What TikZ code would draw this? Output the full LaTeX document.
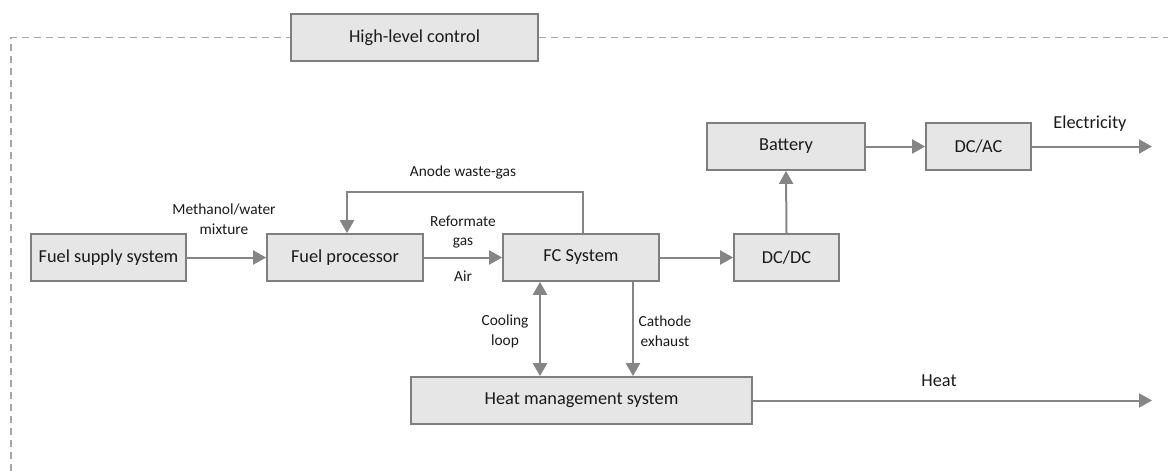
\documentclass[tikz,border=0pt]{standalone}
\usepackage{fontspec}
\setmainfont{Carlito}
\usetikzlibrary{arrows.meta}
\definecolor{boxfill}{HTML}{E6E6E6}
\definecolor{boxline}{HTML}{7F7F7F}
\definecolor{arrowc}{HTML}{858585}
\definecolor{dashc}{HTML}{A6A6A6}
\definecolor{txt}{HTML}{1A1A1A}
\tikzset{
  blk/.style={draw=boxline, fill=boxfill, line width=1.7pt, minimum height=47pt, inner sep=0pt,
    text=txt, font=\fontsize{18.3pt}{20pt}\selectfont},
  flow/.style={draw=arrowc, line width=2pt, -{Triangle[length=13pt,width=14pt]}},
  biflow/.style={draw=arrowc, line width=2pt, {Triangle[length=13pt,width=14pt]}-{Triangle[length=13pt,width=14pt]}},
  ctrl/.style={draw=dashc, line width=1.3pt, dash pattern=on 7pt off 5pt},
  lbl/.style={text=txt, font=\fontsize{15.4pt}{19.5pt}\selectfont, align=center, inner sep=0pt},
  biglbl/.style={text=txt, font=\fontsize{18.3pt}{20pt}\selectfont, inner sep=0pt}
}
\begin{document}
\begin{tikzpicture}[x=1pt,y=-1pt]
\useasboundingbox (0,0) rectangle (1168,471);
% nodes
\node[blk, minimum width=247pt] (hlc) at (414.5,37.5) {High-level control};
\node[blk, minimum width=155pt] (fss) at (108.5,257.5) {Fuel supply system};
\node[blk, minimum width=156pt] (fp) at (345,257.5) {Fuel processor};
\node[blk, minimum width=156pt] (fc) at (581,257.5) {FC System};
\node[blk, minimum width=105pt] (dcdc) at (786.5,257.5) {DC/DC};
\node[blk, minimum width=158pt] (bat) at (786,146.5) {Battery};
\node[blk, minimum width=105pt] (dcac) at (978.5,146.5) {DC/AC};
\node[blk, minimum width=341pt] (hms) at (581.5,400.5) {Heat management system};
% control boundary
\coordinate (cl) at (11,37.5);
\coordinate (cb) at (11,471);
\coordinate (cr) at (1168,37.5);
\draw[ctrl] (cb) -- (cl) -- (hlc.west);
\draw[ctrl] (hlc.east) -- (cr);
% flows
\draw[flow] (fss.east) -- (fp.west);
\draw[flow] (fp.east) -- (fc.west);
\draw[flow] (fc.east) -- (dcdc.west);
\draw[flow] (dcdc.north) -- (bat.south);
\draw[flow] (bat.east) -- (dcac.west);
\coordinate (elec) at (1152,146.5);
\draw[flow] (dcac.east) -- (elec);
\coordinate (heat) at (1152,400.5);
\draw[flow] (hms.east) -- (heat);
\draw[flow] (fc.north -| 583,0) -- (583,192) -- (347,192) -- (fp.north -| 347,0);
\draw[biflow] (fc.south -| 540,0) -- (hms.north -| 540,0);
\draw[flow] (fc.south -| 633,0) -- (hms.north -| 633,0);
% labels
\node[lbl] (lmw) at (224,219) {Methanol/water\\mixture};
\node[lbl] (law) at (463,172) {Anode waste-gas};
\node[lbl] (lrg) at (463,232) {Reformate\\gas};
\node[lbl] (lair) at (463,276) {Air};
\node[lbl] (lcool) at (505,331.5) {Cooling\\loop};
\node[lbl] (lcath) at (665,331) {Cathode\\exhaust};
\node[biglbl] (lel) at (1090,124) {Electricity};
\node[biglbl] (lheat) at (939,381) {Heat};
\end{tikzpicture}
\end{document}
